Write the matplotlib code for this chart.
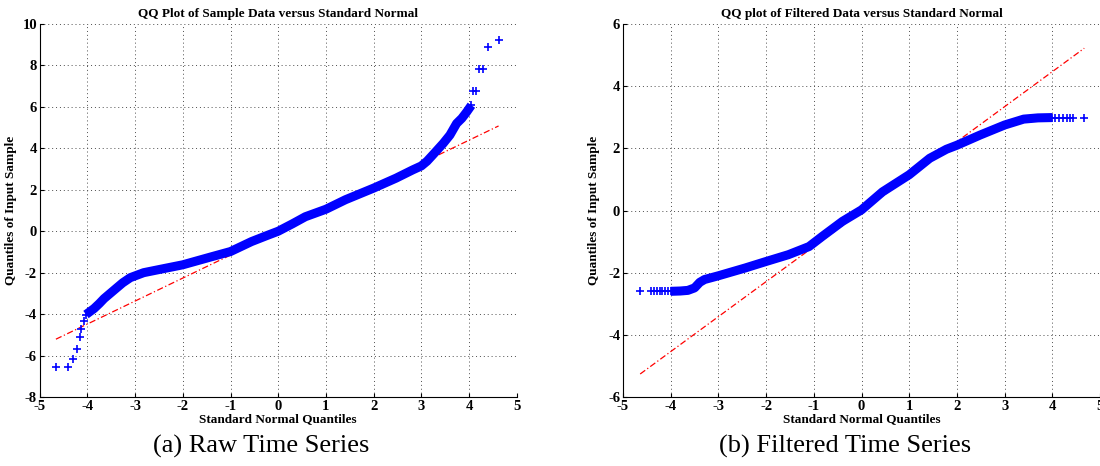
import matplotlib
matplotlib.use("Agg")
import matplotlib.pyplot as plt

# Raw time series QQ data
raw_lo_x = [-4.65, -4.41, -4.30, -4.22, -4.16, -4.13, -4.08]
raw_lo_y = [-6.53, -6.53, -6.18, -5.70, -5.12, -4.71, -4.31]
raw_body_x = [-4.03, -3.86, -3.75, -3.65, -3.44, -3.26, -3.10, -2.82, -2.39, -2.00,
              -1.41, -1.00, -0.56, -0.25, 0.00, 0.30, 0.57, 1.00, 1.41, 2.00,
              2.47, 2.82, 3.00, 3.12, 3.24, 3.46, 3.60, 3.74, 3.85, 3.95, 4.05]
raw_body_y = [-4.02, -3.73, -3.49, -3.25, -2.84, -2.49, -2.24, -2.00, -1.80, -1.62,
              -1.24, -0.98, -0.50, -0.22, 0.00, 0.36, 0.70, 1.06, 1.52, 2.08,
              2.56, 2.96, 3.15, 3.38, 3.68, 4.24, 4.64, 5.20, 5.45, 5.75, 6.08]
raw_hi_x = [4.09, 4.15, 4.22, 4.30, 4.40, 4.63]
raw_hi_y = [6.75, 6.77, 7.82, 7.82, 8.87, 9.23]
raw_fit_x = [-4.66, 4.62]
raw_fit_y = [-5.21, 5.08]

# Filtered time series QQ data
filt_lo_x = [-4.64, -4.42, -4.35, -4.29, -4.23, -4.18, -4.12, -4.06]
filt_lo_y = [-2.60, -2.60, -2.60, -2.60, -2.60, -2.60, -2.60, -2.60]
filt_body_x = [-4.00, -3.80, -3.64, -3.50, -3.39, -3.29, -3.00, -2.44, -2.00, -1.53,
               -1.10, -0.82, -0.40, 0.00, 0.44, 1.00, 1.43, 1.78, 2.00, 2.49,
               3.00, 3.40, 3.70, 4.00]
filt_body_y = [-2.60, -2.59, -2.57, -2.49, -2.31, -2.22, -2.10, -1.85, -1.64, -1.42,
               -1.16, -0.83, -0.35, 0.02, 0.60, 1.15, 1.68, 1.97, 2.10, 2.43,
               2.75, 2.94, 2.98, 2.99]
filt_hi_x = [4.06, 4.14, 4.22, 4.30, 4.37, 4.44, 4.67]
filt_hi_y = [2.99, 2.99, 2.99, 2.99, 2.99, 2.99, 2.99]
filt_fit_x = [-4.64, 4.67]
filt_fit_y = [-5.26, 5.22]

x_ticks = list(range(-5, 6))
raw_yticks = list(range(-8, 11, 2))
filt_yticks = list(range(-6, 7, 2))

plt.rcParams['font.family'] = ['Liberation Serif', 'DejaVu Serif']
plt.rcParams['font.weight'] = 'bold'
plt.rcParams['axes.unicode_minus'] = False  # plain hyphen minus like the original

fig = plt.figure(figsize=(11, 4.66), dpi=100)


def qq_panel(ax, lo, body, hi, fit, yticks, title):
    # reference line under the data
    ax.plot(fit[0], fit[1], color='red', lw=0.9, ls=(0, (5, 2, 1, 2)), zorder=2)
    # dense body of the quantiles drawn as a thick band
    ax.plot(body[0], body[1], color='blue', lw=6.5, solid_capstyle='butt', zorder=3)
    ax.plot(body[0], body[1], ls='none', marker='+', color='blue', ms=6, mew=1.2, zorder=3)
    ax.plot(lo[0], lo[1], ls='none', marker='+', color='blue', ms=6, mew=1.2, zorder=3)
    ax.plot(hi[0], hi[1], ls='none', marker='+', color='blue', ms=6, mew=1.2, zorder=3)

    ax.set_xlim(-5, 5)
    ax.set_ylim(yticks[0], yticks[-1])
    ax.set_xticks(x_ticks)
    ax.set_yticks(yticks)
    ax.grid(True, color='0.3', ls=(0, (1, 3)), lw=0.7)
    for side in ['top', 'right']:
        ax.spines[side].set_visible(False)
    ax.tick_params(direction='in', length=3, labelsize=10.5, pad=2)
    for lab in ax.get_xticklabels() + ax.get_yticklabels():
        lab.set_fontweight('bold')
    ax.set_title(title, fontsize=9.5, fontweight='bold', pad=5)
    ax.set_xlabel('Standard Normal Quantiles', fontsize=9.5, fontweight='bold', labelpad=0)
    ax.set_ylabel('Quantiles of Input Sample', fontsize=9.5, fontweight='bold')
    ax.yaxis.set_label_coords(-0.048, 0.5)


ax1 = fig.add_axes([39.7 / 1100, 69 / 466, 477 / 1100, 373 / 466])
qq_panel(ax1, (raw_lo_x, raw_lo_y), (raw_body_x, raw_body_y), (raw_hi_x, raw_hi_y),
         (raw_fit_x, raw_fit_y), raw_yticks, 'QQ Plot of Sample Data versus Standard Normal')

ax2 = fig.add_axes([623 / 1100, 69 / 466, 477 / 1100, 373 / 466])
qq_panel(ax2, (filt_lo_x, filt_lo_y), (filt_body_x, filt_body_y), (filt_hi_x, filt_hi_y),
         (filt_fit_x, filt_fit_y), filt_yticks, 'QQ plot of Filtered Data versus Standard Normal')

# sub-figure captions
fig.text(261 / 1100, 0.041, '(a) Raw Time Series', fontsize=19, fontweight='normal',
         ha='center', va='center')
fig.text(845 / 1100, 0.041, '(b) Filtered Time Series', fontsize=19, fontweight='normal',
         ha='center', va='center')

fig.savefig('out.png', dpi=100)
